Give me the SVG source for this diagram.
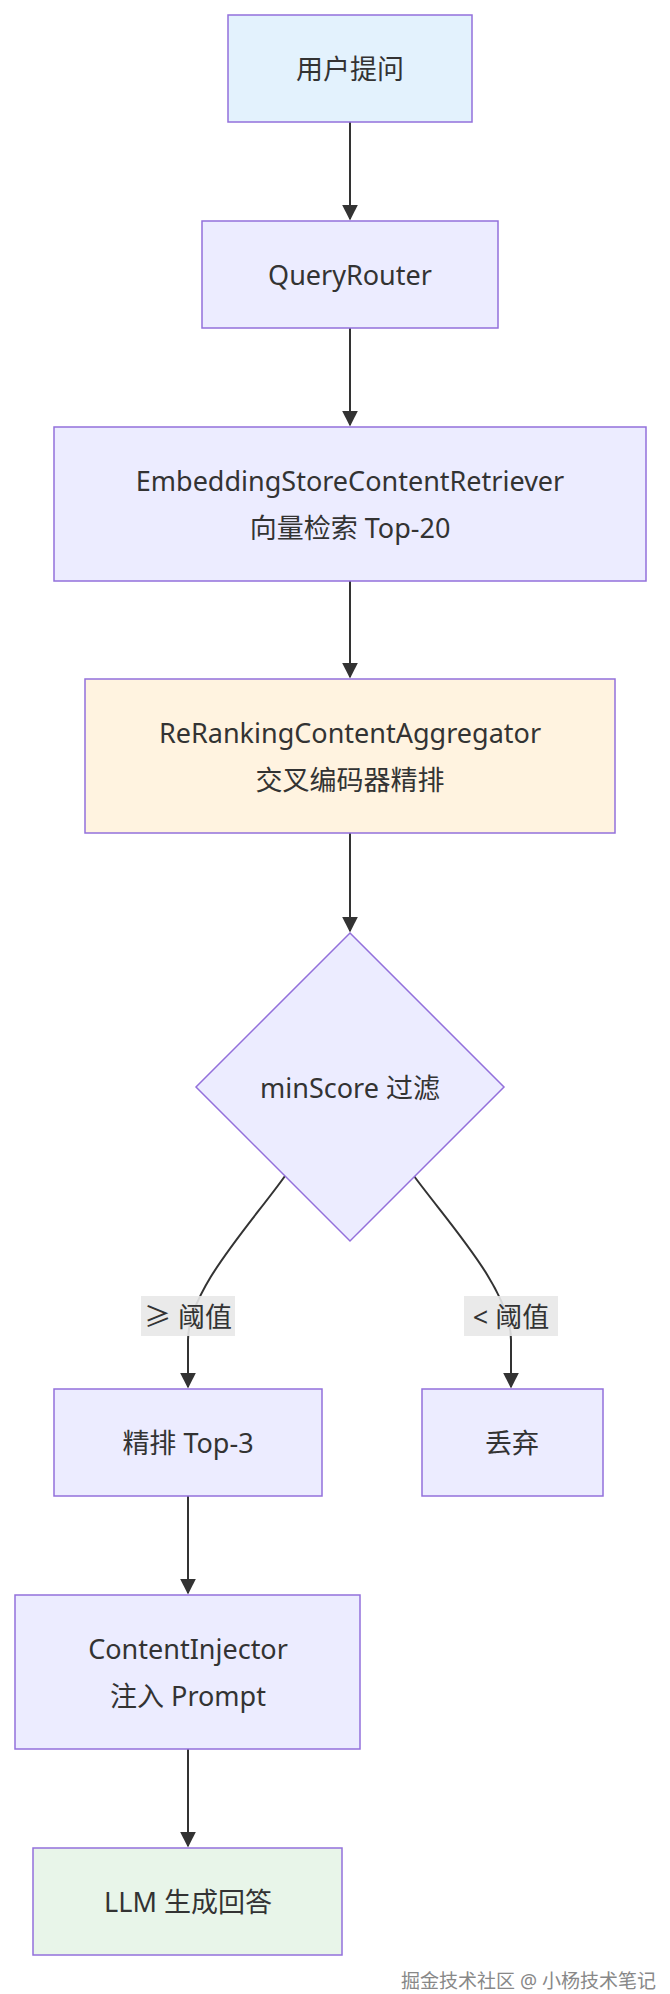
<svg xmlns="http://www.w3.org/2000/svg" width="670" height="1994" viewBox="0 0 670 1994">
<style>
.n{fill:#ECECFF;stroke:#9370DB;stroke-width:1.5}
.t{font-family:"Noto Sans","Noto Sans CJK SC",sans-serif;font-size:27px;fill:#333;text-anchor:middle;dominant-baseline:central}
.e{fill:none;stroke:#333;stroke-width:2}
.lb{fill:#e8e8e8;opacity:0.9}
</style>
<defs><marker id="a" viewBox="0 0 10 10" refX="9" refY="5" markerWidth="8" markerHeight="8" orient="auto"><path d="M0,0L10,5L0,10z" fill="#333"/></marker></defs>
<rect width="670" height="1994" fill="#fff"/>
<g id="edges">
<path class="e" d="M350,122V219" marker-end="url(#a)"/>
<path class="e" d="M350,328V425" marker-end="url(#a)"/>
<path class="e" d="M350,581V677" marker-end="url(#a)"/>
<path class="e" d="M350,833V931" marker-end="url(#a)"/>
<path class="e" d="M285,1176C250,1225 188,1290 188,1340V1387" marker-end="url(#a)"/>
<path class="e" d="M414,1176C450,1225 511,1290 511,1340V1387" marker-end="url(#a)"/>
<path class="e" d="M188,1496V1593" marker-end="url(#a)"/>
<path class="e" d="M188,1749V1846" marker-end="url(#a)"/>
<rect class="lb" x="141" y="1296" width="94" height="40"/>
<text class="t" x="188" y="1316">≥ 阈值</text>
<rect class="lb" x="464" y="1296" width="94" height="40"/>
<text class="t" x="511" y="1316">&lt; 阈值</text>
</g>
<g id="n1"><rect class="n" x="228" y="15" width="244" height="107" style="fill:#E3F2FD"/><text class="t" x="350" y="68">用户提问</text></g>
<g id="n2"><rect class="n" x="202" y="221" width="296" height="107"/><text class="t" x="350" y="274">QueryRouter</text></g>
<g id="n3"><rect class="n" x="54" y="427" width="592" height="154"/><text class="t" x="350" y="480">EmbeddingStoreContentRetriever</text><text class="t" x="350" y="527">向量检索 Top-20</text></g>
<g id="n4"><rect class="n" x="85" y="679" width="530" height="154" style="fill:#FFF3E0"/><text class="t" x="350" y="732">ReRankingContentAggregator</text><text class="t" x="350" y="779">交叉编码器精排</text></g>
<g id="n5"><path class="n" d="M350,933L504,1087L350,1241L196,1087z"/><text class="t" x="350" y="1087">minScore 过滤</text></g>
<g id="n6"><rect class="n" x="54" y="1389" width="268" height="107"/><text class="t" x="188" y="1442">精排 Top-3</text></g>
<g id="n7"><rect class="n" x="422" y="1389" width="181" height="107"/><text class="t" x="512" y="1442">丢弃</text></g>
<g id="n8"><rect class="n" x="15" y="1595" width="345" height="154"/><text class="t" x="188" y="1648">ContentInjector</text><text class="t" x="188" y="1695">注入 Prompt</text></g>
<g id="n9"><rect class="n" x="33" y="1848" width="309" height="107" style="fill:#E8F5E9"/><text class="t" x="188" y="1901">LLM 生成回答</text></g>
<text x="656" y="1988" style="font-family:'Noto Sans','Noto Sans CJK SC',sans-serif;font-size:19px;fill:#888;text-anchor:end">掘金技术社区 @ 小杨技术笔记</text>
</svg>
